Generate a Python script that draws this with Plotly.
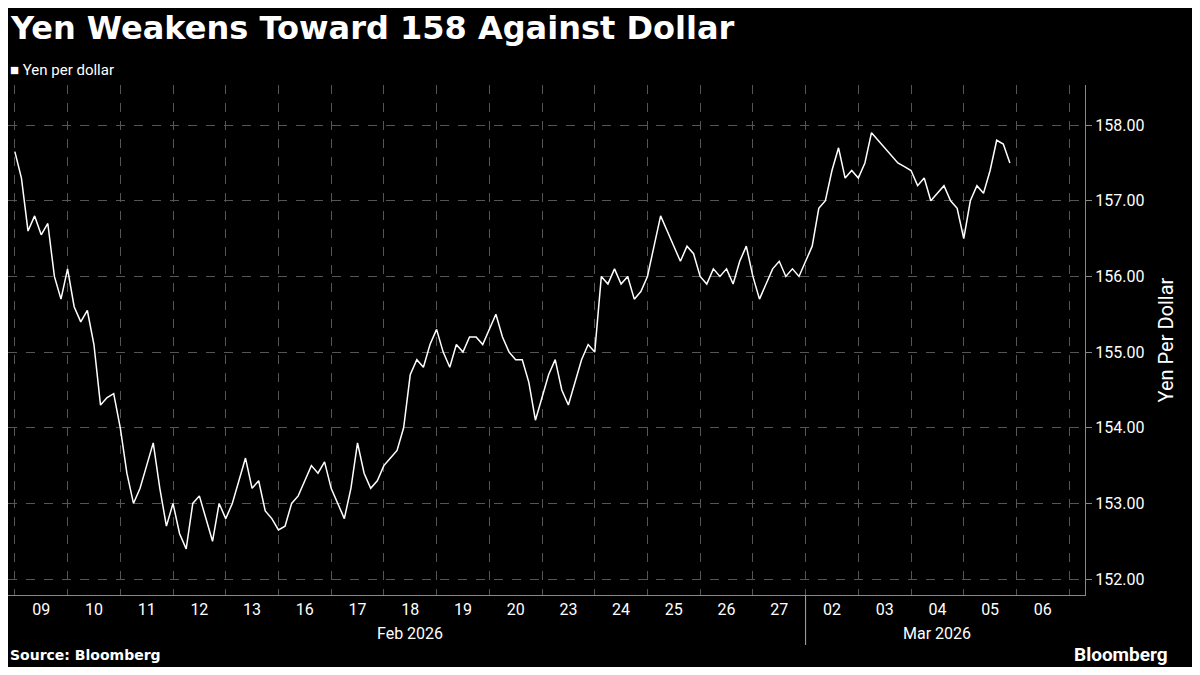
import plotly.graph_objects as go

day_labels = ["09", "10", "11", "12", "13", "16", "17", "18", "19", "20",
              "23", "24", "25", "26", "27", "02", "03", "04", "05", "06"]
month_labels = ["Feb 2026", "Mar 2026"]

# 8 intraday readings per trading day, Feb 9 .. Mar 5
yen = [
    157.65, 157.3, 156.6, 156.8, 156.55, 156.7, 156.0, 155.7,
    156.1, 155.6, 155.4, 155.55, 155.1, 154.3, 154.4, 154.45,
    154.0, 153.4, 153.0, 153.2, 153.5, 153.8, 153.2, 152.7,
    153.0, 152.6, 152.4, 153.0, 153.1, 152.8, 152.5, 153.0,
    152.8, 153.0, 153.3, 153.6, 153.2, 153.3, 152.9, 152.8,
    152.65, 152.7, 153.0, 153.1, 153.3, 153.5, 153.4, 153.55,
    153.2, 153.0, 152.8, 153.2, 153.8, 153.4, 153.2, 153.3,
    153.5, 153.6, 153.7, 154.0, 154.7, 154.9, 154.8, 155.1,
    155.3, 155.0, 154.8, 155.1, 155.0, 155.2, 155.2, 155.1,
    155.3, 155.5, 155.2, 155.0, 154.9, 154.9, 154.6, 154.1,
    154.4, 154.7, 154.9, 154.5, 154.3, 154.6, 154.9, 155.1,
    155.0, 156.0, 155.9, 156.1, 155.9, 156.0, 155.7, 155.8,
    156.0, 156.4, 156.8, 156.6, 156.4, 156.2, 156.4, 156.3,
    156.0, 155.9, 156.1, 156.0, 156.1, 155.9, 156.2, 156.4,
    156.0, 155.7, 155.9, 156.1, 156.2, 156.0, 156.1, 156.0,
    156.2, 156.4, 156.9, 157.0, 157.4, 157.7, 157.3, 157.4,
    157.3, 157.5, 157.9, 157.8, 157.7, 157.6, 157.5, 157.45,
    157.4, 157.2, 157.3, 157.0, 157.1, 157.2, 157.0, 156.9,
    156.5, 157.0, 157.2, 157.1, 157.4, 157.8, 157.75, 157.5,
]
per_day = 8
x = [i / per_day for i in range(len(yen))]

fig = go.Figure()
fig.add_trace(go.Scatter(x=x, y=yen, mode="lines", line=dict(color="white", width=1.5),
                         showlegend=False))

# page is drawn with an 8px body margin, so size the figure to fit the window
fig.update_layout(
    width=1184, height=659, paper_bgcolor="black", plot_bgcolor="black",
    margin=dict(l=0, r=107, t=77, b=72, autoexpand=False),
    font=dict(family="Roboto, Arial", color="white"),
    showlegend=False,
    xaxis=dict(range=[-0.13, 20.3], tickvals=[i + 0.5 for i in range(len(day_labels))],
               ticktext=day_labels, showgrid=False, ticks="", zeroline=False,
               showline=True, linecolor="#888", tickfont=dict(size=16, color="white"),
               minor=dict(tickvals=list(range(21)), showgrid=True, griddash="dash",
                          gridcolor="#555", gridwidth=1, ticks="")),
    yaxis=dict(side="right", range=[151.79, 158.53], tickvals=list(range(152, 159)),
               tickformat=".2f", showgrid=True, griddash="dash", gridcolor="#555",
               zeroline=False, showline=True, linecolor="#888", ticks="outside",
               ticklen=6, tickcolor="#888", tickfont=dict(size=16, color="white"),
               title=dict(text="Yen Per Dollar", font=dict(size=20, color="white"))),
)

ph = 510.0  # plot height in px


def py(pixel):
    return (595 - pixel) / ph


fig.add_annotation(xref="paper", yref="paper", x=0.0, y=py(28), xanchor="left", yanchor="middle",
                   text="<b>Yen Weakens Toward 158 Against Dollar</b>", showarrow=False,
                   font=dict(family="DejaVu Sans", size=32, color="white"))
fig.add_annotation(xref="paper", yref="paper", x=0.0, y=py(70), xanchor="left", yanchor="middle",
                   text="■ Yen per dollar", showarrow=False, font=dict(size=15, color="white"))
fig.add_annotation(xref="paper", yref="paper", x=0.0, y=py(655), xanchor="left", yanchor="middle",
                   text="<b>Source: Bloomberg</b>", showarrow=False,
                   font=dict(family="DejaVu Sans", size=14, color="white"))
fig.add_annotation(xref="paper", yref="paper", x=(1170 - 8) / 1077, y=py(654), xanchor="right",
                   yanchor="middle", text="<b>Bloomberg</b>", showarrow=False,
                   font=dict(size=19, color="white"))

for label, center in zip(month_labels, [7.5, 17.5]):
    fig.add_annotation(x=center, xref="x", yref="paper", y=py(633), yanchor="middle",
                       text=label, showarrow=False, font=dict(size=16, color="white"))
fig.add_shape(type="line", x0=15, x1=15, xref="x", yref="paper", y0=0, y1=py(645),
              line=dict(color="#aaa", width=1))

fig.write_html("out.html")
